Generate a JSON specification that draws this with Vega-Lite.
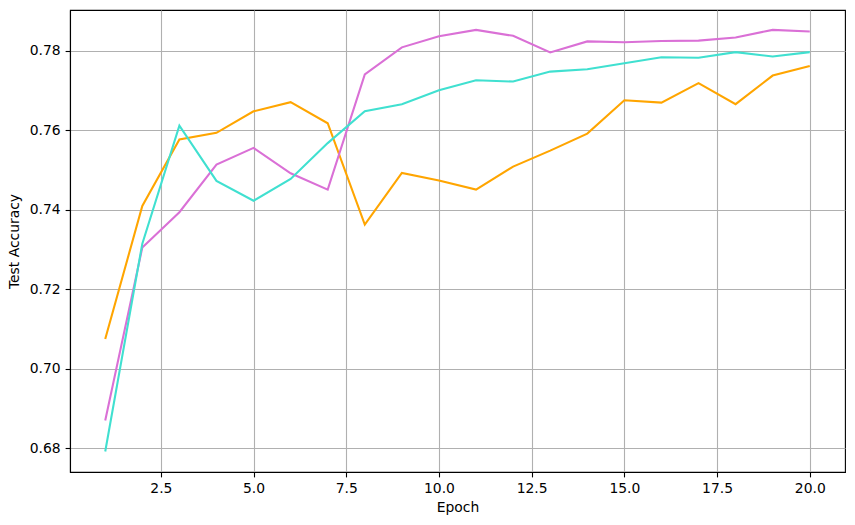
{
  "$schema": "https://vega.github.io/schema/vega-lite/v6.json",
  "width": 775,
  "height": 462,
  "autosize": {"type": "none"},
  "padding": {"left": 70, "top": 10, "right": 10, "bottom": 53},
  "background": "white",
  "config": {
    "font": "DejaVu Sans",
    "view": {"stroke": "black", "strokeWidth": 1.1},
    "axis": {
      "labelFont": "DejaVu Sans",
      "titleFont": "DejaVu Sans",
      "labelFontSize": 13.9,
      "titleFontSize": 13.9,
      "titleFontWeight": "normal",
      "labelColor": "black",
      "titleColor": "black",
      "domainColor": "black",
      "domainWidth": 1.1,
      "tickColor": "black",
      "tickWidth": 1.1,
      "tickSize": 4.9,
      "labelPadding": 4.9,
      "gridColor": "#b0b0b0",
      "gridWidth": 1.1,
      "gridOpacity": 1
    }
  },
  "data": {
    "values": [
      {"epoch": 1, "series": "orange", "acc": 0.7075},
      {"epoch": 2, "series": "orange", "acc": 0.7410},
      {"epoch": 3, "series": "orange", "acc": 0.7577},
      {"epoch": 4, "series": "orange", "acc": 0.7594},
      {"epoch": 5, "series": "orange", "acc": 0.7648},
      {"epoch": 6, "series": "orange", "acc": 0.7671},
      {"epoch": 7, "series": "orange", "acc": 0.7618},
      {"epoch": 8, "series": "orange", "acc": 0.7363},
      {"epoch": 9, "series": "orange", "acc": 0.7493},
      {"epoch": 10, "series": "orange", "acc": 0.7474},
      {"epoch": 11, "series": "orange", "acc": 0.7451},
      {"epoch": 12, "series": "orange", "acc": 0.7509},
      {"epoch": 13, "series": "orange", "acc": 0.7549},
      {"epoch": 14, "series": "orange", "acc": 0.7592},
      {"epoch": 15, "series": "orange", "acc": 0.7676},
      {"epoch": 16, "series": "orange", "acc": 0.7670},
      {"epoch": 17, "series": "orange", "acc": 0.7719},
      {"epoch": 18, "series": "orange", "acc": 0.7666},
      {"epoch": 19, "series": "orange", "acc": 0.7738},
      {"epoch": 20, "series": "orange", "acc": 0.7762},
      {"epoch": 1, "series": "orchid", "acc": 0.6870},
      {"epoch": 2, "series": "orchid", "acc": 0.7305},
      {"epoch": 3, "series": "orchid", "acc": 0.7394},
      {"epoch": 4, "series": "orchid", "acc": 0.7514},
      {"epoch": 5, "series": "orchid", "acc": 0.7556},
      {"epoch": 6, "series": "orchid", "acc": 0.7492},
      {"epoch": 7, "series": "orchid", "acc": 0.7451},
      {"epoch": 8, "series": "orchid", "acc": 0.7741},
      {"epoch": 9, "series": "orchid", "acc": 0.7809},
      {"epoch": 10, "series": "orchid", "acc": 0.7837},
      {"epoch": 11, "series": "orchid", "acc": 0.7853},
      {"epoch": 12, "series": "orchid", "acc": 0.7838},
      {"epoch": 13, "series": "orchid", "acc": 0.7796},
      {"epoch": 14, "series": "orchid", "acc": 0.7824},
      {"epoch": 15, "series": "orchid", "acc": 0.7822},
      {"epoch": 16, "series": "orchid", "acc": 0.7825},
      {"epoch": 17, "series": "orchid", "acc": 0.7826},
      {"epoch": 18, "series": "orchid", "acc": 0.7834},
      {"epoch": 19, "series": "orchid", "acc": 0.7853},
      {"epoch": 20, "series": "orchid", "acc": 0.7849},
      {"epoch": 1, "series": "turquoise", "acc": 0.6792},
      {"epoch": 2, "series": "turquoise", "acc": 0.7315},
      {"epoch": 3, "series": "turquoise", "acc": 0.7612},
      {"epoch": 4, "series": "turquoise", "acc": 0.7473},
      {"epoch": 5, "series": "turquoise", "acc": 0.7423},
      {"epoch": 6, "series": "turquoise", "acc": 0.7478},
      {"epoch": 7, "series": "turquoise", "acc": 0.7568},
      {"epoch": 8, "series": "turquoise", "acc": 0.7648},
      {"epoch": 9, "series": "turquoise", "acc": 0.7666},
      {"epoch": 10, "series": "turquoise", "acc": 0.7701},
      {"epoch": 11, "series": "turquoise", "acc": 0.7726},
      {"epoch": 12, "series": "turquoise", "acc": 0.7723},
      {"epoch": 13, "series": "turquoise", "acc": 0.7748},
      {"epoch": 14, "series": "turquoise", "acc": 0.7754},
      {"epoch": 15, "series": "turquoise", "acc": 0.7769},
      {"epoch": 16, "series": "turquoise", "acc": 0.7784},
      {"epoch": 17, "series": "turquoise", "acc": 0.7783},
      {"epoch": 18, "series": "turquoise", "acc": 0.7797},
      {"epoch": 19, "series": "turquoise", "acc": 0.7786},
      {"epoch": 20, "series": "turquoise", "acc": 0.7797}
    ]
  },
  "mark": {"type": "line", "strokeWidth": 2.08, "clip": true},
  "encoding": {
    "x": {
      "field": "epoch",
      "type": "quantitative",
      "scale": {"domain": [0.05, 20.95], "nice": false, "zero": false},
      "axis": {
        "title": "Epoch",
        "values": [2.5, 5, 7.5, 10, 12.5, 15, 17.5, 20],
        "format": ".1f",
        "titlePadding": 5,
        "labelFlush": false
      }
    },
    "y": {
      "field": "acc",
      "type": "quantitative",
      "scale": {"domain": [0.67403, 0.7903], "nice": false, "zero": false},
      "axis": {
        "title": "Test Accuracy",
        "values": [0.68, 0.70, 0.72, 0.74, 0.76, 0.78],
        "format": ".2f",
        "titlePadding": 8,
        "labelFlush": false
      }
    },
    "color": {
      "field": "series",
      "type": "nominal",
      "scale": {"domain": ["orange", "orchid", "turquoise"], "range": ["#FFA500", "#DA70D6", "#40E0D0"]},
      "legend": null
    }
  }
}
